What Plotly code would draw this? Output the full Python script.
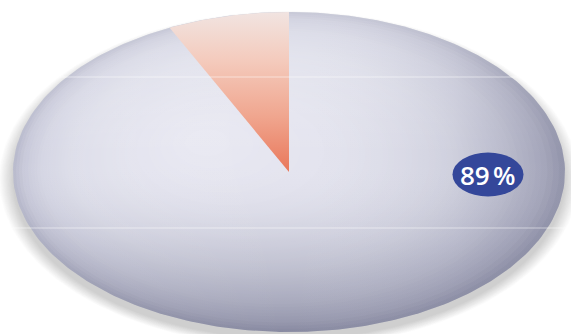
import numpy as np
import plotly.graph_objects as go

# Shares of the two slices (percent)
slice_names = ["main", "rest"]
shares = [89, 11]

W, H = 571, 334
CX, CY = 289.0, 172.0      # pie centre (pixel-like units)
RX, RY = 276.0, 160.0      # pie radii
HL = (200.0, 140.0)        # highlight point of the body shading


def radius(phi):
    """Distance from the centre to the rim along screen angle phi (0 = 12 o'clock, ccw)."""
    return 1.0 / np.sqrt((np.sin(phi) / RX) ** 2 + (np.cos(phi) / RY) ** 2)


def rim(a0, a1, n=240):
    phi = np.linspace(a0, a1, n)
    r = radius(phi)
    return CX - r * np.sin(phi), CY - r * np.cos(phi)


def hex_rgb(h):
    h = h.lstrip("#")
    return np.array([int(h[i:i + 2], 16) for i in (0, 2, 4)], float)


def interp_color(stops, t):
    for (t0, c0), (t1, c1) in zip(stops[:-1], stops[1:]):
        if t <= t1:
            f = (t - t0) / (t1 - t0) if t1 > t0 else 0
            c = hex_rgb(c0) * (1 - f) + hex_rgb(c1) * f
            return "rgb(%d,%d,%d)" % tuple(np.round(c))
    c = hex_rgb(stops[-1][1])
    return "rgb(%d,%d,%d)" % tuple(np.round(c))


fig = go.Figure()
ex, ey = rim(0, 2 * np.pi, 360)

# soft drop shadow, mostly below the body
n_sh = 16
for k in range(n_sh):
    s = 1.05 - 0.05 * k / (n_sh - 1)
    fig.add_trace(go.Scatter(
        x=CX + (ex - CX) * s, y=CY + 7 + (ey - CY) * s,
        mode="lines", fill="toself", line=dict(width=0),
        fillcolor="rgba(110,110,115,0.018)", hoverinfo="skip", showlegend=False))

# body of the pie: nested rings shaded towards the highlight point
body_stops = [(0.0, "#b2b4c8"), (0.05, "#c3c4d6"), (0.16, "#d2d3e2"),
              (0.35, "#dcdde9"), (0.65, "#e3e3ee"), (1.0, "#e8e8f2")]
n_ring = 60
for k in range(n_ring):
    t = k / (n_ring - 1)
    s = 1 - 0.95 * t
    fig.add_trace(go.Scatter(
        x=HL[0] + (ex - HL[0]) * s, y=HL[1] + (ey - HL[1]) * s,
        mode="lines", fill="toself", line=dict(width=0),
        fillcolor=interp_color(body_stops, t), hoverinfo="skip", showlegend=False))

# directional light: brighter at the top, darker towards the bottom
# (y axis runs downwards, so colorscale 0 sits at the bottom of the screen)
fig.add_trace(go.Scatter(
    x=ex, y=ey, mode="lines", fill="toself", line=dict(width=0),
    fillgradient=dict(type="vertical", colorscale=[
        [0.0, "rgba(70,72,100,0.38)"], [0.3, "rgba(80,82,110,0.10)"],
        [0.55, "rgba(255,255,255,0.0)"], [1.0, "rgba(255,255,255,0.30)"]]),
    hoverinfo="skip", showlegend=False))
fig.add_trace(go.Scatter(
    x=ex, y=ey, mode="lines", fill="toself", line=dict(width=0),
    fillgradient=dict(type="horizontal", colorscale=[
        [0.0, "rgba(255,255,255,0.10)"], [0.5, "rgba(255,255,255,0.0)"],
        [0.8, "rgba(70,72,100,0.08)"], [1.0, "rgba(70,72,100,0.28)"]]),
    hoverinfo="skip", showlegend=False))

# small slice: starts at 12 o'clock and runs counter-clockwise
a1 = 2 * np.pi * shares[1] / sum(shares)
sx, sy = rim(0, a1, 120)
fig.add_trace(go.Scatter(
    x=np.concatenate([[CX], sx, [CX]]), y=np.concatenate([[CY], sy, [CY]]),
    mode="lines", fill="toself", line=dict(width=0),
    fillgradient=dict(type="vertical", colorscale=[
        [0.0, "#e9775a"], [0.35, "#f0a68f"], [0.7, "#f4cbbd"], [1.0, "#f1e4e1"]]),
    hoverinfo="skip", showlegend=False))

fig.update_layout(
    width=W, height=H,
    margin=dict(l=0, r=0, t=0, b=0),
    paper_bgcolor="white", plot_bgcolor="white",
    xaxis=dict(range=[0, W], visible=False, fixedrange=True),
    yaxis=dict(range=[H, 0], visible=False, fixedrange=True),
    showlegend=False,
)

# faint white guide lines across the pie
for gy in (77, 228):
    fig.add_shape(type="line", xref="x", yref="y", x0=0, x1=W, y0=gy, y1=gy,
                  line=dict(color="rgba(255,255,255,0.5)", width=1), layer="above")

# value badge for the large slice
bx, by = 488, 174.5
fig.add_shape(type="circle", xref="x", yref="y", x0=bx - 35.5, x1=bx + 35.5,
              y0=by - 22, y1=by + 22, fillcolor="#34479a", line=dict(width=0),
              layer="above")
fig.add_annotation(x=bx, y=by, xref="x", yref="y", showarrow=False,
                   text=f"{shares[0]}\u202f%",
                   font=dict(family="Open Sans", size=26, color="white", weight=600))

fig.write_html("out.html")
